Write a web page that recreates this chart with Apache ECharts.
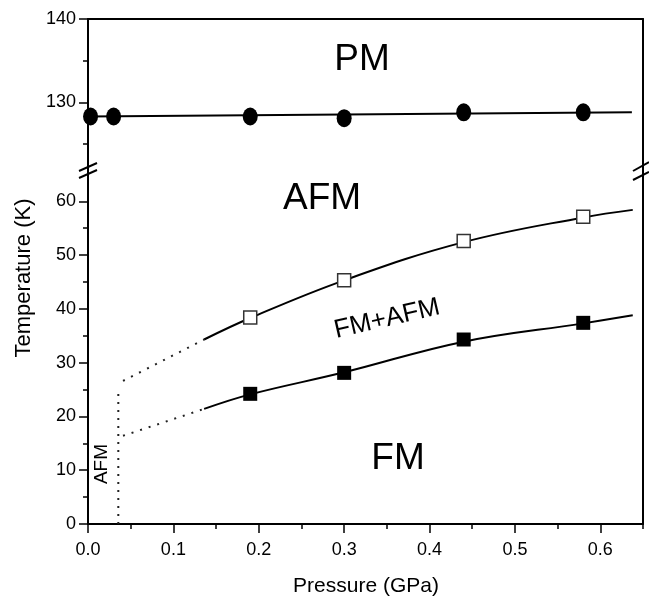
<!DOCTYPE html>
<html><head><meta charset="utf-8">
<script src="https://cdn.jsdelivr.net/npm/echarts@6/dist/echarts.min.js"></script>
<style>html,body{margin:0;padding:0;background:#fff}#c{width:649px;height:600px}</style>
</head><body><div id="c"></div>
<script>
// ---- data ----
const pressureTN = [0.003, 0.03, 0.19, 0.30, 0.44, 0.58];
const tempTN = [128.3, 128.3, 128.3, 128.1, 128.8, 128.8];
const tnFitX = [0, 0.637];
const tnFitY = [128.3, 128.8];
const pressureSq = [0.19, 0.30, 0.44, 0.58];
const tempOpen = [38.4, 45.3, 52.6, 57.1];
const tempFilled = [24.2, 28.1, 34.3, 37.4];
const curveX = [0.136, 0.19, 0.30, 0.44, 0.58, 0.638];
const upperCurveY = [34.3, 38.3, 45.3, 52.4, 57.0, 58.4];
const lowerCurveY = [21.4, 24.1, 28.2, 33.9, 37.3, 38.8];
const upperDotX = [0.041, 0.136];
const upperDotY = [26.6, 34.3];
const lowerDotX = [0.041, 0.136];
const lowerDotY = [16.4, 21.4];
const afmBorderX = [0.0355, 0.0355];
const afmBorderY = [0, 24.9];
const xMajorTicks = [0, 0.1, 0.2, 0.3, 0.4, 0.5, 0.6];
const xMinorTicks = [0.05, 0.15, 0.25, 0.35, 0.45, 0.55, 0.65];
const yLowMajor = [0, 10, 20, 30, 40, 50, 60];
const yLowMinor = [5, 15, 25, 35, 45, 55];
const yTopMajor = [130, 140];
const yTopMinor = [125, 135];

const zip = (xs, ys) => xs.map((x, i) => [x, ys[i]]);
const FONT = "'Liberation Sans', Arial, sans-serif";
const BLACK = '#000';

const chart = echarts.init(document.getElementById('c'), null, {renderer: 'canvas'});

const axLine = {show: true, lineStyle: {color: BLACK, width: 2}};
const noTick = {show: false};
const noLabel = {show: false};
const noSplit = {show: false};
const tickLbl = {fontSize: 18, fontFamily: FONT, color: BLACK};

const option = {
  animation: false,
  backgroundColor: '#fff',
  grid: [
    {left: 88, right: 6, top: 19, height: 150, containLabel: false},
    {left: 88, right: 6, top: 169, bottom: 76, containLabel: false}
  ],
  xAxis: [
    {gridIndex: 0, type: 'value', min: 0, max: 0.65, position: 'top',
     axisLine: axLine, axisTick: noTick, axisLabel: noLabel, splitLine: noSplit},
    {gridIndex: 1, type: 'value', min: 0, max: 0.65, position: 'bottom',
     axisLine: axLine,
     axisTick: {show: true, inside: false, length: 9, customValues: xMajorTicks, lineStyle: {color: BLACK, width: 1.5}},
     axisLabel: Object.assign({show: true, customValues: xMajorTicks, formatter: v => v.toFixed(1), margin: 17}, tickLbl),
     splitLine: noSplit},
    {gridIndex: 1, type: 'value', min: 0, max: 0.65, position: 'bottom',
     axisLine: {show: false},
     axisTick: {show: true, inside: false, length: 5, customValues: xMinorTicks, lineStyle: {color: BLACK, width: 1.5}},
     axisLabel: noLabel, splitLine: noSplit}
  ],
  yAxis: [
    {gridIndex: 0, type: 'value', min: 122, max: 140, position: 'left',
     axisLine: axLine,
     axisTick: {show: true, length: 9, customValues: yTopMajor, lineStyle: {color: BLACK, width: 1.5}},
     axisLabel: Object.assign({show: true, customValues: yTopMajor, margin: 12}, tickLbl),
     splitLine: noSplit},
    {gridIndex: 0, type: 'value', min: 122, max: 140, position: 'left',
     axisLine: {show: false},
     axisTick: {show: true, length: 5, customValues: yTopMinor, lineStyle: {color: BLACK, width: 1.5}},
     axisLabel: noLabel, splitLine: noSplit},
    {gridIndex: 0, type: 'value', min: 122, max: 140, position: 'right',
     axisLine: axLine, axisTick: noTick, axisLabel: noLabel, splitLine: noSplit},
    {gridIndex: 1, type: 'value', min: 0, max: 66, position: 'left',
     axisLine: axLine,
     axisTick: {show: true, length: 9, customValues: yLowMajor, lineStyle: {color: BLACK, width: 1.5}},
     axisLabel: Object.assign({show: true, customValues: yLowMajor, margin: 12}, tickLbl),
     splitLine: noSplit},
    {gridIndex: 1, type: 'value', min: 0, max: 66, position: 'left',
     axisLine: {show: false},
     axisTick: {show: true, length: 5, customValues: yLowMinor, lineStyle: {color: BLACK, width: 1.5}},
     axisLabel: noLabel, splitLine: noSplit},
    {gridIndex: 1, type: 'value', min: 0, max: 66, position: 'right',
     axisLine: axLine, axisTick: noTick, axisLabel: noLabel, splitLine: noSplit}
  ],
  series: [
    {type: 'line', xAxisIndex: 0, yAxisIndex: 0, data: zip(tnFitX, tnFitY), showSymbol: false,
     lineStyle: {color: BLACK, width: 2}, z: 2},
    {type: 'scatter', xAxisIndex: 0, yAxisIndex: 0, data: zip(pressureTN, tempTN), symbol: 'circle', symbolSize: [15, 18],
     itemStyle: {color: BLACK, opacity: 1}, z: 3},
    {type: 'line', xAxisIndex: 1, yAxisIndex: 3, data: zip(curveX, upperCurveY), smooth: 0.4, showSymbol: false,
     lineStyle: {color: BLACK, width: 2}, z: 2},
    {type: 'line', xAxisIndex: 1, yAxisIndex: 3, data: zip(curveX, lowerCurveY), smooth: 0.4, showSymbol: false,
     lineStyle: {color: BLACK, width: 2}, z: 2},
    {type: 'line', xAxisIndex: 1, yAxisIndex: 3, data: zip(upperDotX, upperDotY), showSymbol: false,
     lineStyle: {color: '#222', width: 2, type: [2, 7]}, z: 2},
    {type: 'line', xAxisIndex: 1, yAxisIndex: 3, data: zip(lowerDotX, lowerDotY), showSymbol: false,
     lineStyle: {color: '#222', width: 2, type: [2, 7]}, z: 2},
    {type: 'line', xAxisIndex: 1, yAxisIndex: 3, data: zip(afmBorderX, afmBorderY), showSymbol: false,
     lineStyle: {color: '#222', width: 2, type: [2, 6]}, z: 2},
    {type: 'scatter', xAxisIndex: 1, yAxisIndex: 3, data: zip(pressureSq, tempOpen), symbol: 'rect', symbolSize: 13,
     itemStyle: {color: '#fff', borderColor: '#333', borderWidth: 1.5, opacity: 1}, z: 3},
    {type: 'scatter', xAxisIndex: 1, yAxisIndex: 3, data: zip(pressureSq, tempFilled), symbol: 'rect', symbolSize: 14,
     itemStyle: {color: BLACK, opacity: 1}, z: 3}
  ],
  graphic: [
    {type: 'text', x: 362, y: 60, style: {text: 'PM', font: "37px " + FONT, fill: BLACK, textAlign: 'center', textVerticalAlign: 'middle'}},
    {type: 'text', x: 322, y: 199, style: {text: 'AFM', font: "37px " + FONT, fill: BLACK, textAlign: 'center', textVerticalAlign: 'middle'}},
    {type: 'text', x: 387, y: 319, rotation: 13 * Math.PI / 180, style: {text: 'FM+AFM', font: "26px " + FONT, fill: BLACK, textAlign: 'center', textVerticalAlign: 'middle'}},
    {type: 'text', x: 398, y: 459, style: {text: 'FM', font: "37px " + FONT, fill: BLACK, textAlign: 'center', textVerticalAlign: 'middle'}},
    {type: 'text', x: 102, y: 464, rotation: Math.PI / 2, style: {text: 'AFM', font: "19px " + FONT, fill: BLACK, textAlign: 'center', textVerticalAlign: 'middle'}},
    {type: 'text', x: 24, y: 278, rotation: Math.PI / 2, style: {text: 'Temperature (K)', font: "22px " + FONT, fill: BLACK, textAlign: 'center', textVerticalAlign: 'middle'}},
    {type: 'text', x: 366, y: 586, style: {text: 'Pressure (GPa)', font: "21px " + FONT, fill: BLACK, textAlign: 'center', textVerticalAlign: 'middle'}},
    // axis break marks
    {type: 'line', shape: {x1: 79, y1: 178, x2: 97, y2: 170}, style: {stroke: BLACK, lineWidth: 2}, z: 10},
    {type: 'line', shape: {x1: 79, y1: 171, x2: 97, y2: 163}, style: {stroke: BLACK, lineWidth: 2}, z: 10},
    {type: 'line', shape: {x1: 633, y1: 180, x2: 649, y2: 172}, style: {stroke: BLACK, lineWidth: 2}, z: 10},
    {type: 'line', shape: {x1: 633, y1: 171, x2: 649, y2: 162}, style: {stroke: BLACK, lineWidth: 2}, z: 10}
  ]
};
chart.setOption(option);
</script>
</body></html>
